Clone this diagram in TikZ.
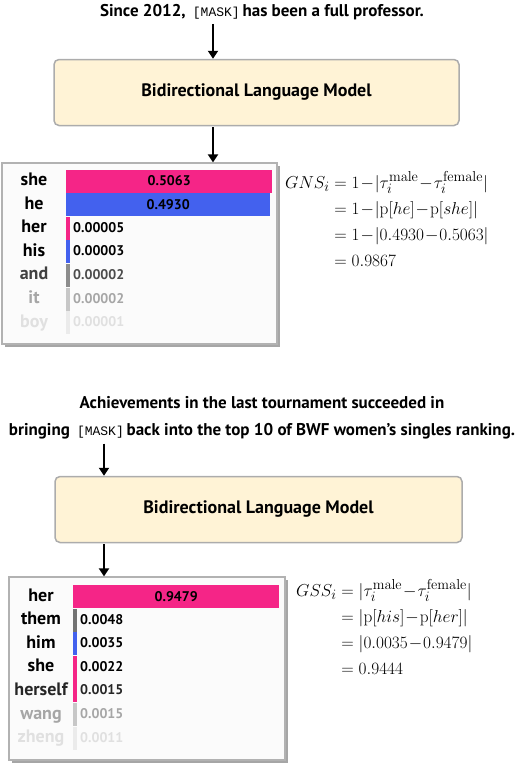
\documentclass[tikz,border=0pt]{standalone}
\usepackage[no-math]{fontspec}
\usepackage{amsmath}
\setmainfont{PT Sans}
\setsansfont{PT Sans}
\setmonofont{Liberation Mono}
\usetikzlibrary{arrows.meta,shadows,calc}

\definecolor{femPink}{HTML}{F52587}
\definecolor{malBlue}{HTML}{4361EE}
\definecolor{lmCream}{HTML}{FFF3D6}
\newcommand{\maskTok}{\,{\mdseries\fontsize{13}{15}\selectfont\texttt{[MASK]}}\,}

\begin{document}
\begin{tikzpicture}[x=1pt, y=-1pt,
    >={Triangle[length=8pt,width=10pt]}, font=\sffamily,
    % Styles
    sentence/.style={font=\sffamily\bfseries\fontsize{17}{27}\selectfont, align=center, inner sep=1pt},
    lmBox/.style={draw=gray!65, line width=1.5pt, fill=lmCream, rounded corners=5pt, minimum width=405, minimum height=66, font=\sffamily\bfseries\fontsize{18}{21}\selectfont},
    panelBox/.style={draw=gray!60, line width=1.3pt, fill=gray!3, inner sep=0pt, drop shadow={shadow xshift=3pt, shadow yshift=-3pt, fill=black!35, opacity=1}},
    wordLbl/.style={font=\sffamily\bfseries\fontsize{18}{21}\selectfont, inner sep=0pt, text height=13pt, text depth=4pt},
    barNode/.style={anchor=west, inner sep=0pt, minimum height=23, font=\sffamily\bfseries\fontsize{14}{16}\selectfont},
    valLbl/.style={anchor=west, inner sep=0pt, text height=10pt, text depth=2pt, font=\sffamily\bfseries\fontsize{14}{16}\selectfont},
    flow/.style={->, line width=2pt},
    eqNode/.style={anchor=north west, inner sep=0pt, font=\fontsize{19}{23}\selectfont}
]
\useasboundingbox (0,0) rectangle (524,764);

% ================= EXAMPLE 1: GNS =================
\node[sentence] (sent1) at (262,12) {Since 2012, \maskTok has been a full professor.};
\node[lmBox] (blm1) at (256.5,92.5) {Bidirectional Language Model};
\node[panelBox, minimum width=275, minimum height=181] (panel1) at (139.5,253.5) {};

% bars + words
\node[barNode, fill=femPink, minimum width=206] (bShe) at (66,181) {0.5063};
\node[barNode, fill=malBlue, minimum width=204] (bHe) at (66,204.6) {0.4930};
\node[barNode, fill=femPink, minimum width=4] (bHer) at (66,228.2) {};
\node[barNode, fill=malBlue, minimum width=4] (bHis) at (66,251.8) {};
\node[barNode, fill=black!45, minimum width=4] (bAnd) at (66,275.4) {};
\node[barNode, fill=black!22, minimum width=4] (bIt) at (66,299) {};
\node[barNode, fill=black!8, minimum width=4] (bBoy) at (66,322.6) {};
\node[valLbl] (vHer) at (73,228.2) {0.00005};
\node[valLbl] (vHis) at (73,251.8) {0.00003};
\node[valLbl, text=black!70] (vAnd) at (73,275.4) {0.00002};
\node[valLbl, text=black!35] (vIt) at (73,299) {0.00002};
\node[valLbl, text=black!12] (vBoy) at (73,322.6) {0.00001};
\node[wordLbl] (wShe) at (34,181) {she};
\node[wordLbl] (wHe) at (34,204.6) {he};
\node[wordLbl] (wHer) at (34,228.2) {her};
\node[wordLbl] (wHis) at (34,251.8) {his};
\node[wordLbl, text=black!75] (wAnd) at (34,275.4) {and};
\node[wordLbl, text=black!35] (wIt) at (34,299) {it};
\node[wordLbl, text=black!12] (wBoy) at (34,322.6) {boy};

\node[eqNode] (gns) at (285,171) {$\medmuskip=1mu\begin{aligned}
  GNS_i &= 1-|\tau_i^{\mathrm{male}}-\tau_i^{\mathrm{female}}|\\
        &= 1-|\mathrm{p}[he]-\mathrm{p}[she]|\\
        &= 1-|0.4930-0.5063|\\
        &= 0.9867
\end{aligned}$};

\coordinate (in1) at (213,0);
\draw[flow, shorten <=3pt] (in1 |- sent1.south) -- (in1 |- blm1.north);
\draw[flow, shorten <=1pt] (in1 |- blm1.south) -- (in1 |- panel1.north);

% ================= EXAMPLE 2: GSS =================
\node[sentence] (sent2) at (262,418) {Achievements in the last tournament succeeded in\\bringing \maskTok back into the top 10 of BWF women’s singles ranking.};
\node[lmBox, minimum width=407] (blm2) at (258.5,509.5) {Bidirectional Language Model};
\node[panelBox, minimum width=276, minimum height=183] (panel2) at (147,668.5) {};

% bars + words
\node[barNode, fill=femPink, minimum width=206] (bHer2) at (73,596.5) {0.9479};
\node[barNode, fill=black!55, minimum width=4] (bThem) at (73,620.1) {};
\node[barNode, fill=malBlue, minimum width=4] (bHim) at (73,643.7) {};
\node[barNode, fill=femPink, minimum width=4] (bShe2) at (73,667.3) {};
\node[barNode, fill=femPink, minimum width=4] (bHerself) at (73,690.9) {};
\node[barNode, fill=black!22, minimum width=4] (bWang) at (73,714.5) {};
\node[barNode, fill=black!8, minimum width=4] (bZheng) at (73,738.1) {};
\node[valLbl] (vThem) at (80,620.1) {0.0048};
\node[valLbl] (vHim) at (80,643.7) {0.0035};
\node[valLbl] (vShe2) at (80,667.3) {0.0022};
\node[valLbl, text=black!85] (vHerself) at (80,690.9) {0.0015};
\node[valLbl, text=black!35] (vWang) at (80,714.5) {0.0015};
\node[valLbl, text=black!12] (vZheng) at (80,738.1) {0.0011};
\node[wordLbl] (wHer2) at (41,596.5) {her};
\node[wordLbl] (wThem) at (41,620.1) {them};
\node[wordLbl] (wHim) at (41,643.7) {him};
\node[wordLbl] (wShe2) at (41,667.3) {she};
\node[wordLbl, text=black!85] (wHerself) at (41,690.9) {herself};
\node[wordLbl, text=black!35] (wWang) at (41,714.5) {wang};
\node[wordLbl, text=black!12] (wZheng) at (41,738.1) {zheng};

\node[eqNode] (gss) at (296,579) {$\medmuskip=1mu\begin{aligned}
  GSS_i &= |\tau_i^{\mathrm{male}}-\tau_i^{\mathrm{female}}|\\
        &= |\mathrm{p}[his]-\mathrm{p}[her]|\\
        &= |0.0035-0.9479|\\
        &= 0.9444
\end{aligned}$};

\coordinate (in2) at (104,0);
\draw[flow, shorten <=3pt] (in2 |- sent2.south) -- (in2 |- blm2.north);
\draw[flow, shorten <=1pt] (in2 |- blm2.south) -- (in2 |- panel2.north);

\end{tikzpicture}
\end{document}
